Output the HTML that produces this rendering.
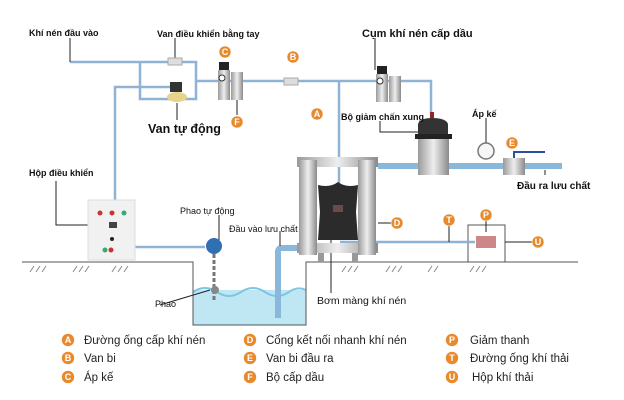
<!DOCTYPE html>
<html><head><meta charset="utf-8"><style>
body{margin:0;background:#fff}
svg{display:block}
text{font-family:"Liberation Sans",sans-serif;font-size:9px;fill:#111}
.b{font-weight:bold}
.lg{font-size:11.5px;font-family:"Liberation Sans",sans-serif;fill:#222}
</style></head><body>
<svg width="624" height="400" viewBox="0 0 624 400" xmlns="http://www.w3.org/2000/svg">
<defs>
<linearGradient id="m" x1="0" x2="1"><stop offset="0" stop-color="#9a9a9a"/><stop offset=".5" stop-color="#eee"/><stop offset="1" stop-color="#8a8a8a"/></linearGradient>
</defs>
<rect x="193" y="290" width="113" height="35" fill="#bfe6f3"/>
<path d="M193 292 q12-8 24 0 q12 8 24 0 q12-8 24 0 q12 8 24 0 q8-6 17-2" fill="none" stroke="#7fc6e0" stroke-width="2"/>
<g stroke="#555" stroke-width="1" fill="none">
<path d="M22 262 H193 V325 H306 V262 H578"/>
<path d="M468 262 V225 H505 V262"/>
</g>
<g stroke="#888" stroke-width="1">
<path d="M30 272l4-6M36 272l4-6M42 272l4-6M73 272l4-6M79 272l4-6M85 272l4-6M112 272l4-6M118 272l4-6M124 272l4-6M342 272l4-6M348 272l4-6M354 272l4-6M386 272l4-6M392 272l4-6M398 272l4-6M428 272l4-6M434 272l4-6M470 272l4-6M476 272l4-6M482 272l4-6"/>
</g>
<g stroke="#8fb3d3" stroke-width="2.5" fill="none">
<path d="M70 62 H196 V99 H140 V62"/>
<path d="M115 200 V87 H175"/>
<path d="M196 81 H431 V113"/>
<path d="M339 81 V210"/>
<path d="M135 247 H205"/>
<path d="M340 242 H475"/>
</g>
<g stroke="#8ab8da" stroke-width="6" fill="none">
<path d="M378 166 H562"/>
<path d="M300 248 H282 Q278 248 278 252 V318"/>
</g>
<g stroke="#222" stroke-width="1" fill="none">
<path d="M70 38 V62"/><path d="M175 38 V58"/><path d="M177 103 V120"/>
<path d="M56 181 V225 H88"/><path d="M375 38 V70"/><path d="M237 100 V115"/>
<path d="M380 121 H380 V132 H420"/><path d="M486 118 V145"/><path d="M545 175 V170"/>
<path d="M219 215 V240"/><path d="M280 231 V246"/><path d="M160 305 L210 290"/>
<path d="M331 240 V293"/><path d="M378 223 H391"/><path d="M449 226 V242"/><path d="M486 221 V232"/><path d="M505 242 H532"/>
</g>
<rect x="168" y="58" width="14" height="7" fill="#ddd" stroke="#aaa"/>
<rect x="284" y="78" width="14" height="7" fill="#ddd" stroke="#aaa"/>
<rect x="170" y="82" width="12" height="10" fill="#333"/>
<ellipse cx="177" cy="97" rx="10" ry="5" fill="#e8d38a"/>
<g><rect x="219" y="62" width="10" height="8" fill="#222"/><rect x="218" y="70" width="12" height="30" fill="url(#m)"/><rect x="231" y="72" width="12" height="28" fill="url(#m)"/><circle cx="222" cy="78" r="3" fill="#fff" stroke="#333"/></g>
<g><rect x="377" y="66" width="10" height="8" fill="#222"/><rect x="376" y="74" width="12" height="28" fill="url(#m)"/><rect x="389" y="76" width="12" height="26" fill="url(#m)"/><circle cx="380" cy="81" r="3" fill="#fff" stroke="#333"/></g>
<rect x="430" y="112" width="4" height="6" fill="#922"/>
<path d="M418 124 Q420 118 432 118 Q446 118 448 124 V138 H418Z" fill="#333"/>
<rect x="415" y="134" width="37" height="5" fill="#222"/>
<rect x="418" y="139" width="31" height="36" fill="url(#m)"/>
<circle cx="486" cy="151" r="8" fill="#f6f6f6" stroke="#777" stroke-width="1.5"/>
<rect x="503" y="158" width="22" height="17" fill="url(#m)"/>
<path d="M514 158 V152 H545" stroke="#2a4fa0" stroke-width="2" fill="none"/>
<rect x="297" y="157" width="81" height="10" fill="url(#m)"/>
<rect x="297" y="243" width="81" height="10" fill="url(#m)"/>
<rect x="299" y="160" width="18" height="95" fill="url(#m)"/>
<rect x="358" y="160" width="18" height="95" fill="url(#m)"/>
<path d="M318 185 Q330 188 338 182 Q346 188 358 185 L356 212 L358 240 H318 L320 212Z" fill="#2b2b2b"/>
<rect x="333" y="205" width="10" height="7" fill="#6a4a4a"/>
<rect x="318" y="253" width="6" height="9" fill="#999"/><rect x="352" y="253" width="6" height="9" fill="#999"/>
<rect x="88" y="200" width="47" height="60" fill="#f1f1f1" stroke="#ddd"/>
<g fill="#c33"><circle cx="100" cy="213" r="2.5"/><circle cx="112" cy="213" r="2.5"/><circle cx="111" cy="250" r="2.5"/></g>
<g fill="#3a7"><circle cx="124" cy="213" r="2.5"/><circle cx="105" cy="250" r="2.5"/></g>
<rect x="109" y="222" width="8" height="6" fill="#444"/><circle cx="112" cy="239" r="2" fill="#222"/>
<circle cx="214" cy="246" r="8" fill="#2f6fb2"/>
<path d="M214 254 V300" stroke="#777" stroke-width="3" stroke-dasharray="4 2"/>
<circle cx="215" cy="290" r="4" fill="#888"/>
<rect x="476" y="236" width="20" height="12" fill="#c88"/>
<g fill="#e88a2c" stroke="#fff" stroke-width="0.5">
<circle cx="225" cy="52" r="6"/><circle cx="293" cy="57" r="6"/><circle cx="317" cy="114" r="6"/><circle cx="237" cy="122" r="6"/><circle cx="512" cy="143" r="6"/><circle cx="397" cy="223" r="6"/><circle cx="486" cy="215" r="6"/><circle cx="449" cy="220" r="6"/><circle cx="538" cy="242" r="6"/>
<circle cx="68" cy="340" r="6.5"/><circle cx="68" cy="358" r="6.5"/><circle cx="68" cy="377" r="6.5"/>
<circle cx="250" cy="340" r="6.5"/><circle cx="250" cy="358" r="6.5"/><circle cx="250" cy="377" r="6.5"/>
<circle cx="452" cy="340" r="6.5"/><circle cx="452" cy="358" r="6.5"/><circle cx="452" cy="377" r="6.5"/>
</g>
<g style="font-size:8px;fill:#fff;font-weight:bold" text-anchor="middle">
<text x="225" y="55" style="fill:#fff">C</text><text x="293" y="60" style="fill:#fff">B</text><text x="317" y="117" style="fill:#fff">A</text><text x="237" y="125" style="fill:#fff">F</text><text x="512" y="146" style="fill:#fff">E</text><text x="397" y="226" style="fill:#fff">D</text><text x="486" y="218" style="fill:#fff">P</text><text x="449" y="223" style="fill:#fff">T</text><text x="538" y="245" style="fill:#fff">U</text>
<text x="68" y="343" style="fill:#fff">A</text><text x="68" y="361" style="fill:#fff">B</text><text x="68" y="380" style="fill:#fff">C</text>
<text x="250" y="343" style="fill:#fff">D</text><text x="250" y="361" style="fill:#fff">E</text><text x="250" y="380" style="fill:#fff">F</text>
<text x="452" y="343" style="fill:#fff">P</text><text x="452" y="361" style="fill:#fff">T</text><text x="452" y="380" style="fill:#fff">U</text>
</g>
<text x="29" y="36" class="b">Khí nén đầu vào</text>
<text x="157" y="37" class="b">Van điều khiển bằng tay</text>
<text x="362" y="37" class="b" style="font-size:11px">Cụm khí nén cấp dầu</text>
<text x="148" y="133" class="b" style="font-size:12.5px">Van tự động</text>
<text x="29" y="176" class="b">Hộp điều khiển</text>
<text x="341" y="120" class="b">Bộ giảm chấn xung</text>
<text x="472" y="117" class="b">Áp kế</text>
<text x="517" y="189" class="b" style="font-size:10px">Đầu ra lưu chất</text>
<text x="180" y="214">Phao tự động</text>
<text x="229" y="232">Đầu vào lưu chất</text>
<text x="317" y="304" style="font-size:10.5px">Bơm màng khí nén</text>
<text x="155" y="307">Phao</text>
<text x="84" y="344" class="lg">Đường ống cấp khí nén</text>
<text x="84" y="362" class="lg">Van bi</text>
<text x="84" y="381" class="lg">Áp kế</text>
<text x="266" y="344" class="lg">Cổng kết nối nhanh khí nén</text>
<text x="266" y="362" class="lg">Van bi đầu ra</text>
<text x="266" y="381" class="lg">Bộ cấp dầu</text>
<text x="470" y="344" class="lg">Giảm thanh</text>
<text x="470" y="362" class="lg">Đường ống khí thải</text>
<text x="472" y="381" class="lg">Hộp khí thải</text>
</svg>
</body></html>
